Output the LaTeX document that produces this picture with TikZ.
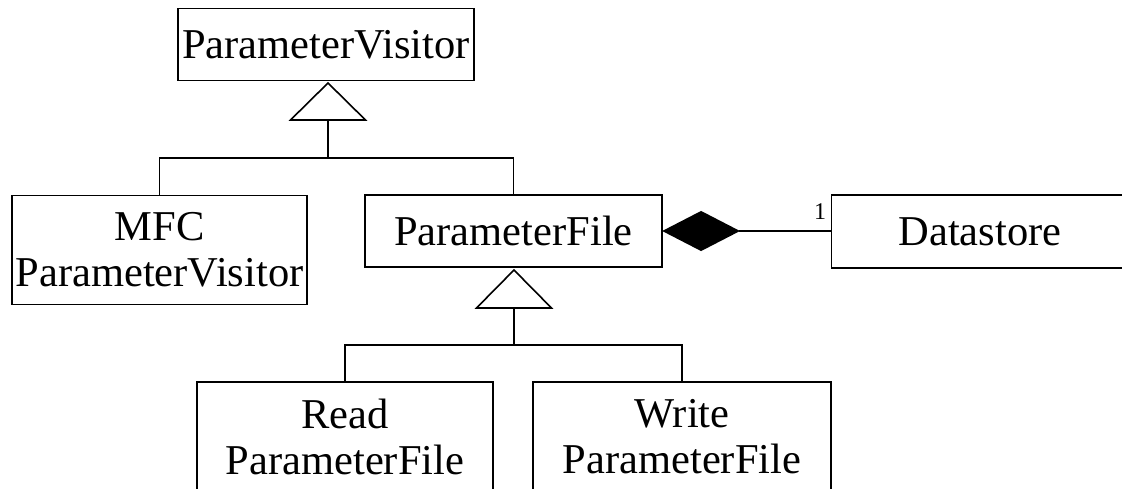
\documentclass[tikz,border=0pt]{standalone}
\usepackage{fontspec}
\setmainfont{Liberation Serif}
\usetikzlibrary{positioning}
\usetikzlibrary{shapes.geometric}
\tikzset{cls/.style = {draw, rectangle, inner sep = 0, minimum width = 296, minimum height = 72, align = center, font = \fontsize{42.5}{46}\selectfont}}
\tikzset{comp/.style = {draw, fill, diamond, inner sep = 0, minimum width = 75, minimum height = 39}}
\tikzset{every picture/.style={
    every path/.style={line width=1.6pt},
}}

\begin{document}
\begin{tikzpicture}[x=1pt, y=-1pt]
      \useasboundingbox (0,0) rectangle (1122,488);
      \node[cls] (pv) at (326, 44.5) {ParameterVisitor};
      \node[cls, minimum width = 295, minimum height = 109] (mfc) at (159.5, 250) {MFC\\ParameterVisitor};
      \node[cls, minimum width = 297] (pf) at (513.5, 231) {ParameterFile};
      \node[cls, minimum width = 297, minimum height = 73] (ds) at (980, 231.5) {Datastore};
      \node[cls, minimum height = 109] (rd) at (345, 436.5) {Read\\ParameterFile};
      \node[cls, minimum width = 298, minimum height = 109] (wr) at (682, 436.5) {Write\\ParameterFile};
      % generalisation
      \coordinate (tip1) at (328, 83);
      \coordinate (base1) at (328, 120);
      \coordinate (j1) at (328, 158);
      \draw (tip1) -- ++(-37.5, 37) -- ++(75, 0) -- cycle;
      \draw (base1) -- (j1);
      \draw (mfc.north) |- (j1) -| (pf.north);
      \coordinate (tip2) at (514, 270);
      \coordinate (base2) at (514, 308);
      \coordinate (j2) at (514, 345);
      \draw (tip2) -- ++(-37.5, 38) -- ++(75, 0) -- cycle;
      \draw (base2) -- (j2);
      \draw (rd.north) |- (j2) -| (wr.north);
      % composition
      \node[comp, right = 0pt of pf] (dia) {};
      \draw (dia.east) -- (dia.east -| ds.west);
      \node[font = \fontsize{24}{24}\selectfont] (mult) at (820, 212) {1};
    \end{tikzpicture}
\end{document}
